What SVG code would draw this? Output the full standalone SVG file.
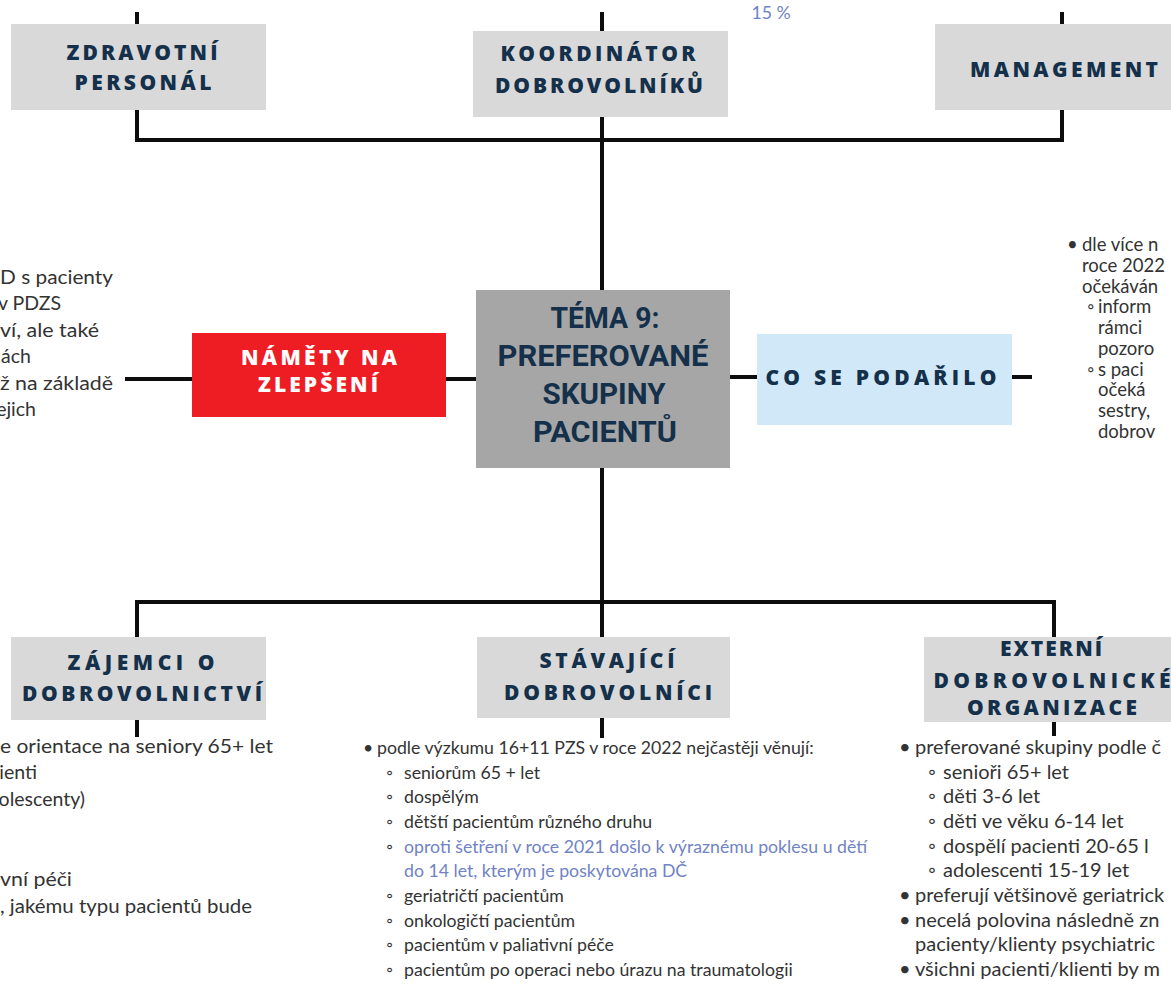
<svg xmlns="http://www.w3.org/2000/svg" width="1171" height="992" viewBox="0 0 1171 992">
  <style>
    .box { fill: #d9d9d9; }
    .hd { font-family: "Open Sans", Lato, "Noto Sans", sans-serif; font-weight: 800; font-size: 21px; fill: #14304a; text-anchor: middle; }
    .hdw { fill: #ffffff; }
    .title { font-family: "Liberation Sans Narrow", Roboto, sans-serif; font-weight: 700; font-size: 30px; fill: #14304a; text-anchor: middle; }
    .tx { font-family: Lato, "Noto Sans", sans-serif; font-size: 17.7px; fill: #333333; }
    .tb { font-family: Lato, "Noto Sans", sans-serif; font-size: 20px; fill: #333333; }
    .tr { font-family: Lato, "Noto Sans", sans-serif; font-size: 18.5px; fill: #333333; }
    .tl { font-family: Lato, "Noto Sans", sans-serif; font-size: 19.5px; fill: #333333; }
    .end { text-anchor: end; }
    .blue { fill: #7083c4; }
    .conn { fill: none; stroke: #0d0d0d; stroke-width: 4; stroke-linejoin: miter; }
  </style>
  <rect width="1171" height="992" fill="#ffffff"/>

  <!-- connectors -->
  <g id="connectors" class="conn">
    <path d="M137 12 V24 M602 12 V31 M1062 12 V24"/>
    <path d="M137 110 V140 H1062 V110"/>
    <path d="M602 117 V290"/>
    <path d="M125 379 H192 M446 379 H476"/>
    <path d="M730 377 H757 M1012 377 H1032"/>
    <path d="M602 468 V602"/>
    <path d="M137 637 V602 H1054 V637 M602 602 V637"/>
    <path d="M137 720 V737 M602 718 V738 M1054 722 V736"/>
  </g>

  <text x="771" y="19" class="tx blue" text-anchor="middle" font-size="15">15 %</text>

  <g id="zdravotni-personal">
    <rect class="box" x="11" y="24" width="255" height="86"/>
    <text class="hd" x="142" y="60" textLength="151" lengthAdjust="spacing">ZDRAVOTNÍ</text>
    <text class="hd" x="143" y="90" textLength="137" lengthAdjust="spacing">PERSONÁL</text>
  </g>

  <g id="koordinator">
    <rect class="box" x="473" y="31" width="255" height="86"/>
    <text class="hd" x="598" y="61" textLength="195" lengthAdjust="spacing">KOORDINÁTOR</text>
    <text class="hd" x="599" y="93" textLength="208" lengthAdjust="spacing">DOBROVOLNÍKŮ</text>
  </g>

  <g id="management">
    <rect class="box" x="935" y="24" width="258" height="86"/>
    <text class="hd" x="1064" y="77" textLength="188" lengthAdjust="spacing">MANAGEMENT</text>
  </g>

  <g id="tema">
    <rect x="476" y="290" width="254" height="178" fill="#a6a6a6"/>
    <text class="title" x="605" y="328" textLength="109" lengthAdjust="spacingAndGlyphs">TÉMA 9:</text>
    <text class="title" x="603" y="366" textLength="211" lengthAdjust="spacingAndGlyphs">PREFEROVANÉ</text>
    <text class="title" x="604" y="404" textLength="123" lengthAdjust="spacingAndGlyphs">SKUPINY</text>
    <text class="title" x="605" y="442" textLength="144" lengthAdjust="spacingAndGlyphs">PACIENTŮ</text>
  </g>

  <g id="namety">
    <rect x="192" y="333" width="254" height="84" fill="#ee1d23"/>
    <text class="hd hdw" x="319" y="365" textLength="156" lengthAdjust="spacing">NÁMĚTY NA</text>
    <text class="hd hdw" x="318" y="392" textLength="120" lengthAdjust="spacing">ZLEPŠENÍ</text>
  </g>

  <g id="co-se-podarilo">
    <rect x="757" y="334" width="255" height="91" fill="#d0e8f8"/>
    <text class="hd" x="881" y="385" textLength="231" lengthAdjust="spacing">CO SE PODAŘILO</text>
  </g>

  <g id="zajemci">
    <rect class="box" x="11" y="637" width="255" height="83"/>
    <text class="hd" x="141" y="670" textLength="147" lengthAdjust="spacing">ZÁJEMCI O</text>
    <text class="hd" x="142" y="701" textLength="240" lengthAdjust="spacing">DOBROVOLNICTVÍ</text>
  </g>

  <g id="stavajici">
    <rect class="box" x="477" y="637" width="253" height="81"/>
    <text class="hd" x="607" y="668" textLength="135" lengthAdjust="spacing">STÁVAJÍCÍ</text>
    <text class="hd" x="608" y="700" textLength="208" lengthAdjust="spacing">DOBROVOLNÍCI</text>
  </g>

  <g id="externi">
    <rect class="box" x="924" y="637" width="260" height="85"/>
    <text class="hd" x="1051" y="656" textLength="102" lengthAdjust="spacing">EXTERNÍ</text>
    <text class="hd" x="1052" y="688" textLength="237" lengthAdjust="spacing">DOBROVOLNICKÉ</text>
    <text class="hd" x="1052" y="715" textLength="170" lengthAdjust="spacing">ORGANIZACE</text>
  </g>

  <!-- notes left of the improvement box -->
  <g id="notes-left" class="tl">
    <text x="0" y="284" textLength="113" lengthAdjust="spacingAndGlyphs">D s pacienty</text>
    <text x="61" y="310" class="end">v PDZS</text>
    <text x="0" y="337" textLength="99" lengthAdjust="spacingAndGlyphs">ví, ale také</text>
    <text x="31" y="363" class="end">ách</text>
    <text x="0" y="390" textLength="113" lengthAdjust="spacingAndGlyphs">ž na základě</text>
    <text x="36" y="416" class="end">ejich</text>
  </g>

  <!-- notes right of the success box -->
  <g id="notes-right" class="tr">
    <text x="1067" y="251">•</text>
    <text x="1082" y="251">dle více n</text>
    <text x="1082" y="272">roce 2022</text>
    <text x="1082" y="293">očekáván</text>
    <text x="1087" y="313">◦</text>
    <text x="1098" y="313">inform</text>
    <text x="1098" y="334">rámci</text>
    <text x="1098" y="355">pozoro</text>
    <text x="1087" y="376">◦</text>
    <text x="1098" y="376">s paci</text>
    <text x="1098" y="396">očeká</text>
    <text x="1098" y="417">sestry,</text>
    <text x="1098" y="438">dobrov</text>
  </g>

  <!-- notes under the prospective volunteers box -->
  <g id="notes-zajemci" class="tl">
    <text x="0" y="753" textLength="273" lengthAdjust="spacingAndGlyphs">e orientace na seniory 65+ let</text>
    <text x="37" y="779" class="end">ienti</text>
    <text x="85" y="806" class="end">olescenty)</text>
    <text x="0" y="886" textLength="72" lengthAdjust="spacingAndGlyphs">vní péči</text>
    <text x="0" y="913" textLength="252" lengthAdjust="spacingAndGlyphs">, jakému typu pacientů bude</text>
  </g>

  <!-- notes under the current volunteers box -->
  <g id="notes-stavajici" class="tx">
    <text x="363" y="754">•</text>
    <text x="377" y="754">podle výzkumu 16+11 PZS v roce 2022 nejčastěji věnují:</text>
    <text x="386" y="779">◦</text>
    <text x="404" y="779">seniorům 65 + let</text>
    <text x="386" y="803">◦</text>
    <text x="404" y="803">dospělým</text>
    <text x="386" y="828">◦</text>
    <text x="404" y="828">dětští pacientům různého druhu</text>
    <text x="386" y="853">◦</text>
    <text x="404" y="853" class="blue">oproti šetření v roce 2021 došlo k výraznému poklesu u dětí</text>
    <text x="404" y="877" class="blue">do 14 let, kterým je poskytována DČ</text>
    <text x="386" y="902">◦</text>
    <text x="404" y="902">geriatričtí pacientům</text>
    <text x="386" y="927">◦</text>
    <text x="404" y="927">onkologičtí pacientům</text>
    <text x="386" y="951">◦</text>
    <text x="404" y="951">pacientům v paliativní péče</text>
    <text x="386" y="976">◦</text>
    <text x="404" y="976">pacientům po operaci nebo úrazu na traumatologii</text>
  </g>

  <!-- notes under the external organisations box -->
  <g id="notes-externi" class="tb">
    <text x="899" y="754">•</text>
    <text x="915" y="754">preferované skupiny podle č</text>
    <text x="928" y="779">◦</text>
    <text x="943" y="779">senioři 65+ let</text>
    <text x="928" y="803">◦</text>
    <text x="943" y="803">děti 3-6 let</text>
    <text x="928" y="828">◦</text>
    <text x="943" y="828">děti ve věku 6-14 let</text>
    <text x="928" y="853">◦</text>
    <text x="943" y="853">dospělí pacienti 20-65 l</text>
    <text x="928" y="877">◦</text>
    <text x="943" y="877">adolescenti 15-19 let</text>
    <text x="899" y="902">•</text>
    <text x="915" y="902">preferují většinově geriatrick</text>
    <text x="899" y="927">•</text>
    <text x="915" y="927">necelá polovina následně zn</text>
    <text x="915" y="951">pacienty/klienty psychiatric</text>
    <text x="899" y="976">•</text>
    <text x="915" y="976">všichni pacienti/klienti by m</text>
  </g>
</svg>
